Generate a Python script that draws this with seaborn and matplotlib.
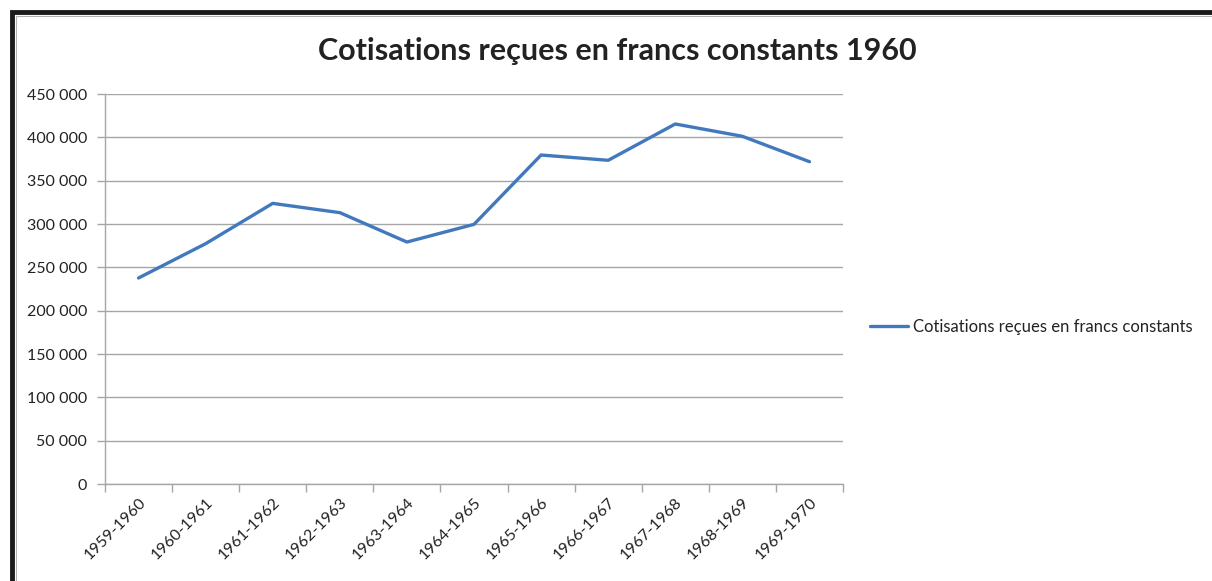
import matplotlib
matplotlib.use("Agg")
import matplotlib.pyplot as plt
import numpy as np
import pandas as pd
import seaborn as sns
from matplotlib.patches import Rectangle
from matplotlib.ticker import FuncFormatter, FixedLocator

# données
periodes = ["1959-1960", "1960-1961", "1961-1962", "1962-1963", "1963-1964", "1964-1965",
            "1965-1966", "1966-1967", "1967-1968", "1968-1969", "1969-1970"]
cotisations = [237700, 277300, 323800, 313100, 279200, 299600,
               379600, 373500, 415400, 401200, 371900]
y_ticks = [0, 50000, 100000, 150000, 200000, 250000, 300000, 350000, 400000, 450000]

titre = "Cotisations reçues en francs constants 1960"
serie = "Cotisations reçues en francs constants"

df = pd.DataFrame({"periode": periodes, "cotisations": cotisations})

sns.set_theme(style="white")
plt.rcParams["font.family"] = ["Lato", "DejaVu Sans"]

fig = plt.figure(figsize=(12.12, 5.81), dpi=100)
ax = fig.add_axes([105 / 1212, 1 - 484 / 581, (843 - 105) / 1212, (484 - 94) / 581])

sns.lineplot(data=df, x="periode", y="cotisations", ax=ax, color="#4279BD", linewidth=2.4,
             label=serie, sort=False)

ax.set_ylim(0, 450000)
ax.set_xlim(-0.5, len(periodes) - 0.5)
ax.set_yticks(y_ticks)
ax.yaxis.set_major_formatter(FuncFormatter(lambda v, p: "{:,}".format(int(v)).replace(",", " ")))
ax.yaxis.grid(True, color="#A6A6A6", linewidth=1)
ax.xaxis.grid(False)
ax.set_axisbelow(True)

# graduations entre les catégories, étiquettes au centre
ax.xaxis.set_major_locator(FixedLocator(np.arange(-0.5, len(periodes), 1)))
ax.xaxis.set_minor_locator(FixedLocator(np.arange(len(periodes))))
ax.set_xticklabels([""] * (len(periodes) + 1))
ax.set_xticklabels(periodes, minor=True, rotation=45, ha="right", rotation_mode="anchor")
ax.tick_params(axis="x", which="major", direction="out", length=6, width=1, color="#A6A6A6", bottom=True)
ax.tick_params(axis="x", which="minor", length=0, pad=8, labelsize=11.5, labelcolor="#222222")
ax.tick_params(axis="y", direction="out", length=6, width=1, color="#A6A6A6", left=True,
               labelsize=11.5, labelcolor="#222222", pad=7)

for s in ["top", "right"]:
    ax.spines[s].set_visible(False)
for s in ["left", "bottom"]:
    ax.spines[s].set_color("#A6A6A6")
    ax.spines[s].set_linewidth(1)

ax.set_xlabel("")
ax.set_ylabel("")

ax.legend(loc="center left", bbox_to_anchor=(870 / 1212, 1 - 327 / 581), bbox_transform=fig.transFigure,
          frameon=False, prop={"size": 12}, handlelength=2.3, handletextpad=0.3, borderpad=0, borderaxespad=0,
          labelcolor="#222222")

fig.text(617 / 1212, 1 - 51 / 581, titre, ha="center", va="center", fontsize=22, fontweight="bold",
         color="#222222")

# cadre
fig.patches.append(Rectangle((12 / 1212, -0.1), 1.2, 1 - 12 / 581 + 0.1, transform=fig.transFigure,
                             fill=False, edgecolor="#1a1a1a", linewidth=3.5))
fig.patches.append(Rectangle((16 / 1212, -0.1), 1.2, 1 - 16 / 581 + 0.1, transform=fig.transFigure,
                             fill=False, edgecolor="#B0B0B0", linewidth=0.8))

fig.savefig("out.png", dpi=100)
